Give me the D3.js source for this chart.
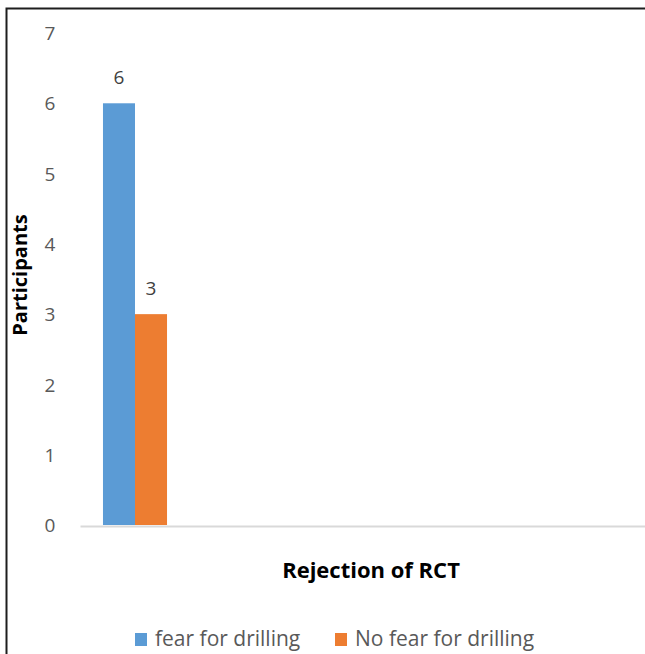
<!DOCTYPE html>
<html>
<head>
<meta charset="utf-8">
<script src="https://cdn.jsdelivr.net/npm/d3@7"></script>
<style>
  html, body { margin: 0; padding: 0; background: #fff; }
  svg { display: block; }
</style>
</head>
<body>
<div id="chart"></div>
<script>
// Data
const categories = ["Rejection of RCT"];
const seriesNames = ["fear for drilling", "No fear for drilling"];
const seriesValues = [[6], [3]];
const seriesColors = ["#5B9BD5", "#ED7D31"];
const yTicks = [0, 1, 2, 3, 4, 5, 6, 7];

const W = 645, H = 654;
const font = "'Open Sans', 'Liberation Sans', Arial, sans-serif";

const svg = d3.select("#chart").append("svg")
  .attr("width", W).attr("height", H);

svg.append("rect").attr("width", W).attr("height", H).attr("fill", "#fff");

// Frame (left and top edges)
svg.append("path")
  .attr("d", `M6.5,${H} L6.5,8.5 L${W},8.5`)
  .attr("fill", "none").attr("stroke", "#1e1e1e").attr("stroke-width", 2);

const plot = { left: 80, right: W, top: 33, bottom: 525 };

const y = d3.scaleLinear().domain([0, 7]).range([plot.bottom, plot.top]);
const x0 = d3.scaleBand().domain(categories).range([80, 190]).padding(0.264);
const x1 = d3.scaleBand().domain(seriesNames).range([0, x0.bandwidth()]);

// Y axis labels (no axis line or ticks)
const yAxis = d3.axisLeft(y).tickValues(yTicks).tickFormat(d3.format("d"))
  .tickSize(0).tickPadding(0);
const yg = svg.append("g").attr("transform", "translate(50,0)").call(yAxis);
yg.select(".domain").remove();
yg.selectAll("text")
  .attr("font-family", font).attr("font-size", 19).attr("fill", "#595959")
  .attr("text-anchor", "middle").attr("x", 0).attr("dy", "0.35em");

// Bars
const groups = svg.append("g").selectAll("g")
  .data(categories).join("g")
  .attr("transform", d => `translate(${x0(d)},0)`);

seriesNames.forEach((name, si) => {
  groups.append("rect")
    .attr("x", x1(name))
    .attr("y", (d, ci) => y(seriesValues[si][ci]))
    .attr("width", x1.bandwidth())
    .attr("height", (d, ci) => y(0) - y(seriesValues[si][ci]))
    .attr("fill", seriesColors[si]);
  groups.append("text")
    .attr("x", x1(name) + x1.bandwidth() / 2)
    .attr("y", (d, ci) => y(seriesValues[si][ci]) - 26)
    .attr("dy", "0.35em")
    .attr("text-anchor", "middle")
    .attr("font-family", font).attr("font-size", 19).attr("fill", "#404040")
    .text((d, ci) => seriesValues[si][ci]);
});

// X axis baseline
const xAxis = d3.axisBottom(d3.scaleLinear().range([plot.left, plot.right])).ticks(0).tickSize(0);
const xg = svg.append("g").attr("transform", `translate(0,${plot.bottom + 1})`).call(xAxis);
xg.select(".domain").attr("stroke", "#d9d9d9").attr("stroke-width", 2);
xg.selectAll("text").remove();

// Axis titles
svg.append("text")
  .attr("x", 371).attr("y", 570).attr("dy", "0.35em")
  .attr("text-anchor", "middle")
  .attr("font-family", font).attr("font-size", 22).attr("font-weight", "bold")
  .attr("fill", "#000").text(categories[0]);

svg.append("text")
  .attr("transform", "translate(20,275) rotate(-90)")
  .attr("dy", "0.35em")
  .attr("text-anchor", "middle")
  .attr("font-family", font).attr("font-size", 20).attr("font-weight", "bold")
  .attr("fill", "#000").text("Participants");

// Legend
const legendX = [135, 335];
const legend = svg.append("g").selectAll("g")
  .data(seriesNames).join("g")
  .attr("transform", (d, i) => `translate(${legendX[i]},639)`);
legend.append("rect")
  .attr("x", 0).attr("y", -6).attr("width", 12).attr("height", 13)
  .attr("fill", (d, i) => seriesColors[i]);
legend.append("text")
  .attr("x", 20).attr("y", 0).attr("dy", "0.35em")
  .attr("font-family", font).attr("font-size", 21).attr("fill", "#595959")
  .text(d => d);
</script>
</body>
</html>
